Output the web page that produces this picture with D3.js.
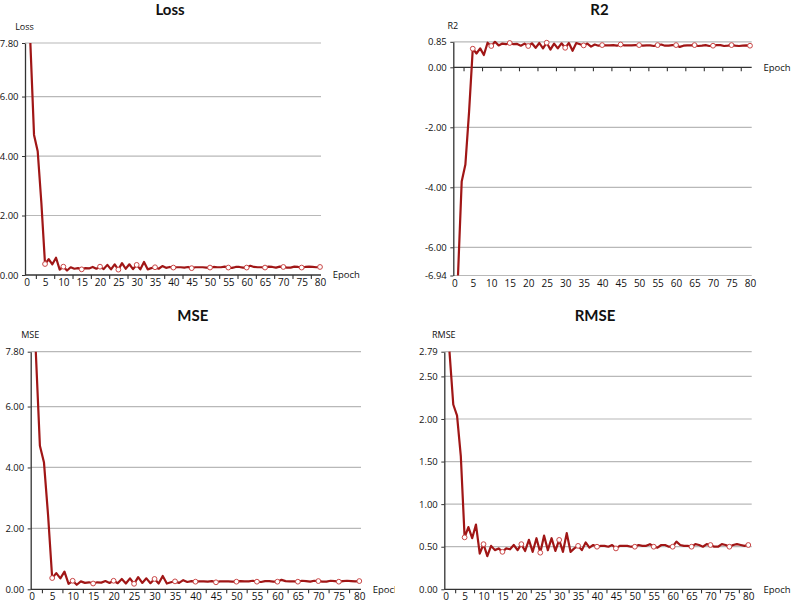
<!DOCTYPE html>
<html><head><meta charset="utf-8">
<script src="https://cdn.jsdelivr.net/npm/d3@7/dist/d3.min.js"></script>
<style>body{margin:0;background:#fff}svg{display:block}</style>
</head><body>
<svg id="c" width="793" height="604"></svg>
<script>
// ---- data ----
const epochs = [1,2,3,4,5,6,7,8,9,10,11,12,13,14,15,16,17,18,19,20,21,22,23,24,25,26,27,28,29,30,31,32,33,34,35,36,37,38,39,40,41,42,43,44,45,46,47,48,49,50,51,52,53,54,55,56,57,58,59,60,61,62,63,64,65,66,67,68,69,70,71,72,73,74,75,76,77,78,79,80];
const lossValues = [7.80,4.71,4.16,2.43,0.37,0.53,0.36,0.58,0.18,0.28,0.15,0.26,0.21,0.23,0.19,0.23,0.22,0.27,0.21,0.28,0.20,0.34,0.19,0.36,0.18,0.40,0.21,0.36,0.20,0.34,0.19,0.44,0.19,0.23,0.26,0.21,0.30,0.24,0.27,0.25,0.26,0.26,0.25,0.27,0.23,0.26,0.26,0.26,0.25,0.25,0.27,0.26,0.26,0.28,0.25,0.24,0.27,0.27,0.25,0.25,0.31,0.27,0.26,0.26,0.25,0.28,0.27,0.25,0.28,0.27,0.25,0.25,0.28,0.27,0.25,0.27,0.28,0.27,0.26,0.27];
const r2Values = [-6.94,-3.81,-3.24,-1.48,0.62,0.46,0.63,0.41,0.82,0.71,0.85,0.73,0.79,0.77,0.81,0.77,0.78,0.72,0.79,0.71,0.80,0.65,0.81,0.63,0.82,0.59,0.79,0.63,0.80,0.65,0.81,0.55,0.81,0.77,0.73,0.79,0.69,0.76,0.72,0.74,0.73,0.73,0.74,0.72,0.76,0.73,0.73,0.73,0.74,0.74,0.72,0.73,0.73,0.71,0.74,0.76,0.72,0.72,0.74,0.74,0.68,0.72,0.73,0.73,0.74,0.71,0.72,0.74,0.71,0.72,0.74,0.74,0.71,0.72,0.74,0.72,0.71,0.72,0.73,0.72];
const mseValues = [7.80,4.71,4.16,2.43,0.37,0.53,0.36,0.58,0.18,0.28,0.15,0.26,0.21,0.23,0.19,0.23,0.22,0.27,0.21,0.28,0.20,0.34,0.19,0.36,0.18,0.40,0.21,0.36,0.20,0.34,0.19,0.44,0.19,0.23,0.26,0.21,0.30,0.24,0.27,0.25,0.26,0.26,0.25,0.27,0.23,0.26,0.26,0.26,0.25,0.25,0.27,0.26,0.26,0.28,0.25,0.24,0.27,0.27,0.25,0.25,0.31,0.27,0.26,0.26,0.25,0.28,0.27,0.25,0.28,0.27,0.25,0.25,0.28,0.27,0.25,0.27,0.28,0.27,0.26,0.27];
const rmseValues = [2.79,2.17,2.04,1.56,0.61,0.73,0.60,0.76,0.42,0.53,0.39,0.51,0.46,0.48,0.44,0.48,0.47,0.52,0.46,0.53,0.45,0.58,0.44,0.60,0.43,0.63,0.46,0.60,0.45,0.58,0.44,0.66,0.44,0.48,0.51,0.46,0.55,0.49,0.52,0.50,0.51,0.51,0.50,0.52,0.48,0.51,0.51,0.51,0.50,0.50,0.52,0.51,0.51,0.53,0.50,0.49,0.52,0.52,0.50,0.50,0.56,0.52,0.51,0.51,0.50,0.53,0.52,0.50,0.53,0.52,0.50,0.50,0.53,0.52,0.50,0.52,0.53,0.52,0.51,0.52];
const markerEpochs = [5,10,15,20,25,30,35,40,45,50,55,60,65,70,75,80];
const xTickLabels = [0,5,10,15,20,25,30,35,40,45,50,55,60,65,70,75,80];
const xTickMarks = [2.5,7.5,12.5,17.5,22.5,27.5,32.5,37.5,42.5,47.5,52.5,57.5,62.5,67.5,72.5,77.5];
const lossTicks = [0,2,4,6,7.8];
const r2Ticks = [-6.94,-6,-4,-2,0,0.85];
const mseTicks = [0,2,4,6,7.8];
const rmseTicks = [0,0.5,1,1.5,2,2.5,2.79];
const titles = ["Loss","R2","MSE","RMSE"];

// ---- layout ----
const panels = [
  {title:titles[0], yLabel:"Loss", values:lossValues, ticks:lossTicks, min:0, max:7.8,
   axisX:25, right:321, x0:26.7, x80:320, yTop:43, yBottom:275, titleY:15, clip:null},
  {title:titles[1], yLabel:"R2", values:r2Values, ticks:r2Ticks, min:-6.94, max:0.85,
   axisX:453.3, right:751.7, x0:454.3, x80:750, yTop:41.8, yBottom:275.5, titleY:15, clip:null},
  {title:titles[2], yLabel:"MSE", values:mseValues, ticks:mseTicks, min:0, max:7.8,
   axisX:30.7, right:361, x0:31.7, x80:359.3, yTop:351.7, yBottom:589.3, titleY:320.9, clip:395},
  {title:titles[3], yLabel:"RMSE", values:rmseValues, ticks:rmseTicks, min:0, max:2.79,
   axisX:444.3, right:751.7, x0:445.7, x80:748.3, yTop:351.7, yBottom:589.3, titleY:320.9, clip:null}
];

const svg = d3.select("#c");
const FONT = "'Open Sans', 'Noto Sans', sans-serif";
const TFONT = "Lato, 'Open Sans', sans-serif";
const LINE = "#a01616", MARK = "#c94646", AXIS = "#333", GRID = "#b8b8b8";

panels.forEach((p, i) => {
  let g = svg.append("g");
  if (p.clip) {
    svg.append("clipPath").attr("id","clip"+i).append("rect")
      .attr("x",0).attr("y",0).attr("width",p.clip).attr("height",604);
    g.attr("clip-path","url(#clip"+i+")");
  }
  const x = d3.scaleLinear().domain([0,80]).range([p.x0,p.x80]);
  const y = d3.scaleLinear().domain([p.min,p.max]).range([p.yBottom,p.yTop]);
  const zeroY = y(0);

  // gridlines
  g.append("g").selectAll("line").data(p.ticks.filter(t => t !== 0)).join("line")
    .attr("x1",p.axisX).attr("x2",p.right)
    .attr("y1",d=>y(d)).attr("y2",d=>y(d))
    .attr("stroke",GRID).attr("stroke-width",1.2);

  // title
  g.append("text").attr("x",(p.axisX+p.right)/2-3).attr("y",p.titleY)
    .attr("text-anchor","middle").attr("font-family",TFONT).attr("font-weight",700)
    .attr("font-size",15).attr("fill","#111").text(p.title);
  // y label
  g.append("text").attr("x",p.axisX-0.5).attr("y",p.yTop-13.3)
    .attr("text-anchor","middle").attr("font-family",FONT)
    .attr("font-size",9).attr("fill","#111").text(p.yLabel);

  // y axis
  const ya = g.append("g").attr("transform",`translate(${p.axisX},0)`)
    .call(d3.axisLeft(y).tickValues(p.ticks).tickFormat(d=>d.toFixed(2)).tickSize(3).tickSizeOuter(0).tickPadding(3.5));
  ya.select(".domain").attr("stroke",AXIS).attr("stroke-width",1.3);
  ya.selectAll(".tick line").attr("stroke",AXIS);
  ya.selectAll("text").attr("font-family",FONT).attr("font-size",9.5).attr("fill","#111");

  // x axis line at zero with tick marks
  g.append("line").attr("x1",p.axisX).attr("x2",p.right).attr("y1",zeroY).attr("y2",zeroY)
    .attr("stroke",AXIS).attr("stroke-width",1.3);
  const xm = g.append("g").attr("transform",`translate(0,${zeroY})`)
    .call(d3.axisBottom(x).tickValues(xTickMarks).tickFormat("").tickSize(4).tickSizeOuter(0));
  xm.select(".domain").remove();
  xm.selectAll(".tick line").attr("stroke",AXIS).attr("stroke-width",1.1);

  // x tick labels at the bottom
  const xl = g.append("g").attr("transform",`translate(0,${p.yBottom})`)
    .call(d3.axisBottom(x).tickValues(xTickLabels).tickFormat(d=>String(d)).tickSize(0).tickPadding(4));
  xl.select(".domain").remove();
  xl.selectAll("text").attr("font-family",FONT).attr("font-size",10).attr("fill","#111");

  // Epoch label
  g.append("text").attr("x",p.right+11.7).attr("y",zeroY).attr("dy","0.35em")
    .attr("font-family",FONT).attr("font-size",9.5).attr("fill","#111").text("Epoch");

  // series line
  const data = epochs.map((e,k)=>({e, v:p.values[k]}));
  g.append("path").datum(data)
    .attr("d", d3.line().x(d=>x(d.e)).y(d=>y(d.v)))
    .attr("fill","none").attr("stroke",LINE).attr("stroke-width",2.2)
    .attr("stroke-linejoin","round");
  g.append("g").selectAll("circle").data(data.filter(d=>markerEpochs.includes(d.e))).join("circle")
    .attr("cx",d=>x(d.e)).attr("cy",d=>y(d.v)).attr("r",2.4)
    .attr("fill","#fff").attr("stroke",MARK).attr("stroke-width",1);
});
</script>
</body></html>
